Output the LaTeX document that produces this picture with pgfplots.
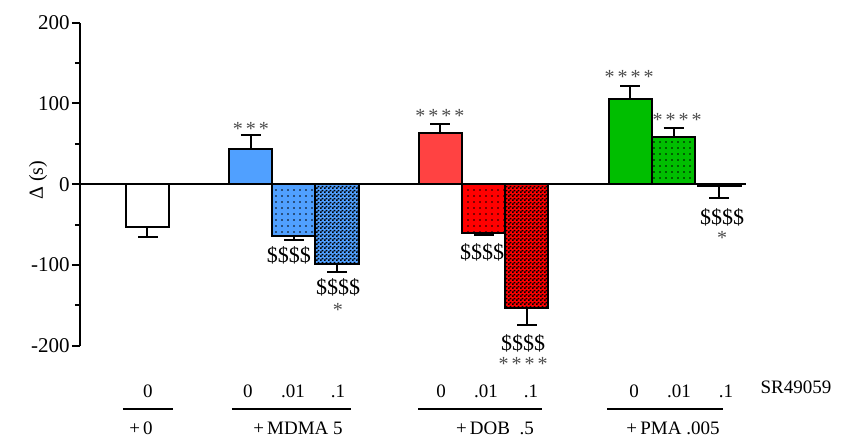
\documentclass[border=0pt]{standalone}
\usepackage{fontspec}
\setmainfont{Liberation Serif}
\usepackage{pgfplots}
\pgfplotsset{compat=1.18}
\usetikzlibrary{patterns,patterns.meta}

\pgfdeclarepatternformonly{checker}{\pgfpointorigin}{\pgfpoint{2pt}{2pt}}{\pgfpoint{2pt}{2pt}}{%
  \pgfpathrectangle{\pgfpointorigin}{\pgfpoint{1pt}{1pt}}%
  \pgfpathrectangle{\pgfpoint{1pt}{1pt}}{\pgfpoint{1pt}{1pt}}%
  \pgfusepath{fill}}

\definecolor{cblue}{RGB}{80,160,255}
\definecolor{clred}{RGB}{255,66,66}
\definecolor{cred}{RGB}{255,0,0}
\definecolor{cgreen}{RGB}{0,190,0}

\pgfplotsset{
  mybar/.style={ybar, bar width=43, draw=black, line width=1pt,
    error bars/y explicit,
    error bars/error bar style={line width=1pt, black},
    error bars/error mark options={rotate=90, line width=1pt, mark size=5pt, black}},
  up/.style={error bars/y dir=plus},
  down/.style={error bars/y dir=minus},
  sparse/.style={postaction={pattern={Dots[radius=0.38pt, distance=3pt]}, pattern color=black}},
  dense/.style={postaction={pattern=checker, pattern color=black}},
}

\begin{document}
\begin{tikzpicture}
\path[use as bounding box] (-40pt,-45.15pt) rectangle (381pt,172.85pt);
\begin{axis}[
  scale only axis, width=340pt, height=161.5pt,
  xmin=80, xmax=760, ymin=-200, ymax=200,
  axis x line=none, axis y line=left,
  axis line style={-, line width=1pt, black},
  ytick={-200,-100,0,100,200}, minor ytick={-150,-50,50,150},
  tick align=outside, major tick length=4pt, minor tick length=2.5pt,
  every tick/.style={line width=1pt, black},
  yticklabel style={font=\fontsize{10.5}{12}\selectfont, inner sep=1pt},
  /pgf/number format/assume math mode=true,
  clip=false,
]
% zero line
\addplot[black, line width=1pt, forget plot] coordinates {(80,0) (746,0)};

% control
\addplot[mybar, fill=white, down] coordinates {(147.5,-53) +- (0,12)};
% MDMA
\addplot[mybar, fill=cblue, up] coordinates {(251,44) +- (0,17)};
\addplot[mybar, fill=cblue, sparse, down] coordinates {(294,-64) +- (0,5)};
\addplot[mybar, fill=cblue, dense, down] coordinates {(337,-99) +- (0,10)};
% DOB
\addplot[mybar, fill=clred, up] coordinates {(440,63) +- (0,12)};
\addplot[mybar, fill=cred, sparse, down] coordinates {(483.5,-60.5) +- (0,2)};
\addplot[mybar, fill=cred, dense, down] coordinates {(526.5,-153) +- (0,21)};
% PMA
\addplot[mybar, fill=cgreen, up] coordinates {(630,106) +- (0,15)};
\addplot[mybar, fill=cgreen, sparse, up] coordinates {(673.5,59) +- (0,10)};
\addplot[mybar, fill=cgreen, sparse, down] coordinates {(719,-2) +- (0,15)};

% group underlines
\addplot[black, line width=1pt, forget plot] coordinates {(123,-278) (173,-278)};
\addplot[black, line width=1pt, forget plot] coordinates {(232,-278) (351,-278)};
\addplot[black, line width=1pt, forget plot] coordinates {(418,-278) (542,-278)};
\addplot[black, line width=1pt, forget plot] coordinates {(607,-278) (723,-278)};

% significance marks
\tikzset{st/.style={font=\fontsize{10}{10}\selectfont, text=black!70, inner sep=0pt},
         dl/.style={font=\fontsize{11}{11}\selectfont, inner sep=0pt}}
\node[st] at (axis cs:251,69) {*\kern1.5pt*\kern1.5pt*};
\node[dl] at (axis cs:289,-88) {\$\$\$\$};
\node[dl] at (axis cs:338,-128) {\$\$\$\$};
\node[st] at (axis cs:338,-156) {*};
\node[st] at (axis cs:440,84) {*\kern1.5pt*\kern1.5pt*\kern1.5pt*};
\node[dl] at (axis cs:523,-197) {\$\$\$\$};
\node[dl] at (axis cs:482,-85) {\$\$\$\$};
\node[st] at (axis cs:523,-223) {*\kern1.5pt*\kern1.5pt*\kern1.5pt*};
\node[st] at (axis cs:629,133) {*\kern1.5pt*\kern1.5pt*\kern1.5pt*};
\node[st] at (axis cs:677,79) {*\kern1.5pt*\kern1.5pt*\kern1.5pt*};
\node[dl] at (axis cs:722,-41) {\$\$\$\$};
\node[st] at (axis cs:722,-67) {*};

% y label
\node[rotate=90, font=\fontsize{10}{11}\selectfont] at (axis cs:38,5) {Δ (s)};

% bottom labels
\tikzset{bl/.style={font=\fontsize{9.5}{10}\selectfont, inner sep=0pt}}
\node[bl] at (axis cs:148,-256) {0};
\node[bl] at (axis cs:248,-256) {0};
\node[bl] at (axis cs:293,-256) {.01};
\node[bl] at (axis cs:338,-256) {.1};
\node[bl] at (axis cs:441,-256) {0};
\node[bl] at (axis cs:486,-256) {.01};
\node[bl] at (axis cs:531,-256) {.1};
\node[bl] at (axis cs:634,-256) {0};
\node[bl] at (axis cs:679,-256) {.01};
\node[bl] at (axis cs:726,-256) {.1};
\node[bl] at (axis cs:796,-252) {SR49059};
\node[bl] at (axis cs:141,-302) {+\,0};
\node[bl] at (axis cs:298,-302) {+\,MDMA 5};
\node[bl] at (axis cs:495,-302) {+\,DOB\ \ .5};
\node[bl] at (axis cs:673,-302) {+\,PMA .005};
\end{axis}
\end{tikzpicture}
\end{document}
